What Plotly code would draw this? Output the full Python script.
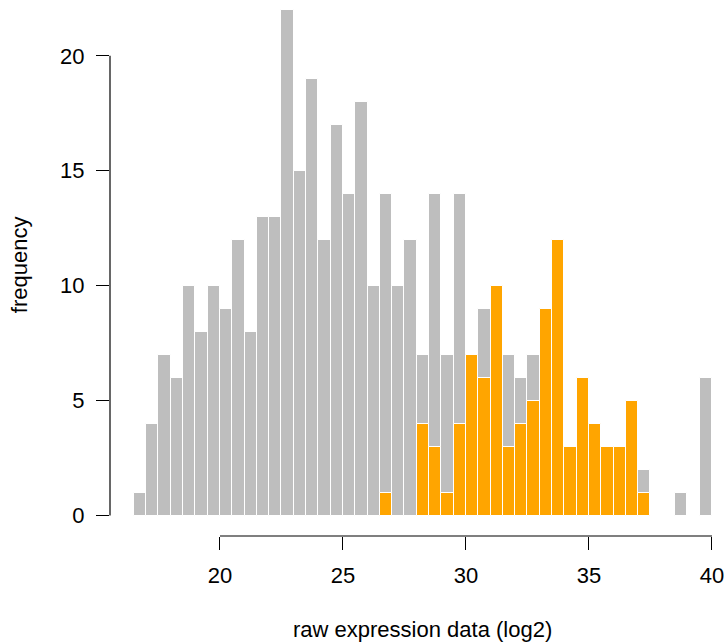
import plotly.graph_objects as go

# Histogram bins: first left edge and bin width (log2 units)
BIN_START = 16.5
BIN_WIDTH = 0.5

# Counts per bin for all probes (grey) and for the highlighted subset (orange)
all_counts = [1, 4, 7, 6, 10, 8, 10, 9, 12, 8, 13, 13, 22, 15, 19, 12, 17, 14,
              18, 10, 14, 10, 12, 7, 14, 7, 14, 7, 9, 10, 7, 6, 7, 9, 12, 3,
              6, 4, 3, 3, 5, 2, 0, 0, 1, 0, 6]
subset_counts = [0] * 20 + [1, 0, 0, 4, 3, 1, 4, 7, 6, 10, 3, 4, 5, 9, 12, 3,
                            6, 4, 3, 3, 5, 1] + [0] * 5

x_ticks = [20, 25, 30, 35, 40]
y_ticks = [0, 5, 10, 15, 20]

x_title = "raw expression data (log2)"
y_title = "frequency"

centers = [BIN_START + BIN_WIDTH * (i + 0.5) for i in range(len(all_counts))]
sub_x = [c for c, n in zip(centers, subset_counts) if n > 0]
sub_y = [n for n in subset_counts if n > 0]

FONT = "Helvetica, Arial, Liberation Sans, sans-serif"
fig = go.Figure()
fig.add_trace(go.Bar(
    x=centers, y=all_counts, width=BIN_WIDTH,
    marker=dict(color="#BEBEBE", line=dict(color="white", width=1)),
    hoverinfo="x+y",
))
fig.add_trace(go.Bar(
    x=sub_x, y=sub_y, width=BIN_WIDTH,
    marker=dict(color="#FFA500", line=dict(color="white", width=1)),
    hoverinfo="x+y",
))

fig.update_layout(
    width=726, height=643,
    margin=dict(l=110, r=0, t=0, b=107),
    barmode="overlay", bargap=0,
    showlegend=False,
    plot_bgcolor="white", paper_bgcolor="white",
    font=dict(family=FONT, size=22, color="black"),
    xaxis=dict(range=[15.53, 40.57], tickvals=x_ticks, ticktext=[str(v) for v in x_ticks],
               ticks="outside", ticklen=13, tickwidth=1.2, tickcolor="black",
               showgrid=False, zeroline=False, showline=False,
               ticklabelstandoff=7, tickfont=dict(size=22)),
    yaxis=dict(range=[-0.89, 22.43], tickvals=y_ticks, ticktext=[str(v) for v in y_ticks],
               ticks="outside", ticklen=13, tickwidth=1.2, tickcolor="black",
               showgrid=False, zeroline=False, showline=False,
               ticklabelstandoff=7, tickfont=dict(size=22)),
    shapes=[
        # detached axis lines spanning first to last tick
        dict(type="line", xref="paper", yref="y", x0=0, x1=0,
             y0=y_ticks[0], y1=y_ticks[-1], line=dict(color="black", width=1.2)),
        dict(type="line", xref="x", yref="paper", x0=x_ticks[0], x1=x_ticks[-1],
             y0=0, y1=0, line=dict(color="black", width=1.2)),
    ],
    annotations=[
        dict(text=x_title, xref="paper", yref="paper", x=0.508, y=-0.174,
             showarrow=False, xanchor="center", yanchor="middle", font=dict(size=22)),
        dict(text=y_title, xref="paper", yref="paper", x=-0.147, y=0.506,
             showarrow=False, xanchor="center", yanchor="middle", textangle=-90,
             font=dict(size=22)),
    ],
)

fig.write_html("out.html")
